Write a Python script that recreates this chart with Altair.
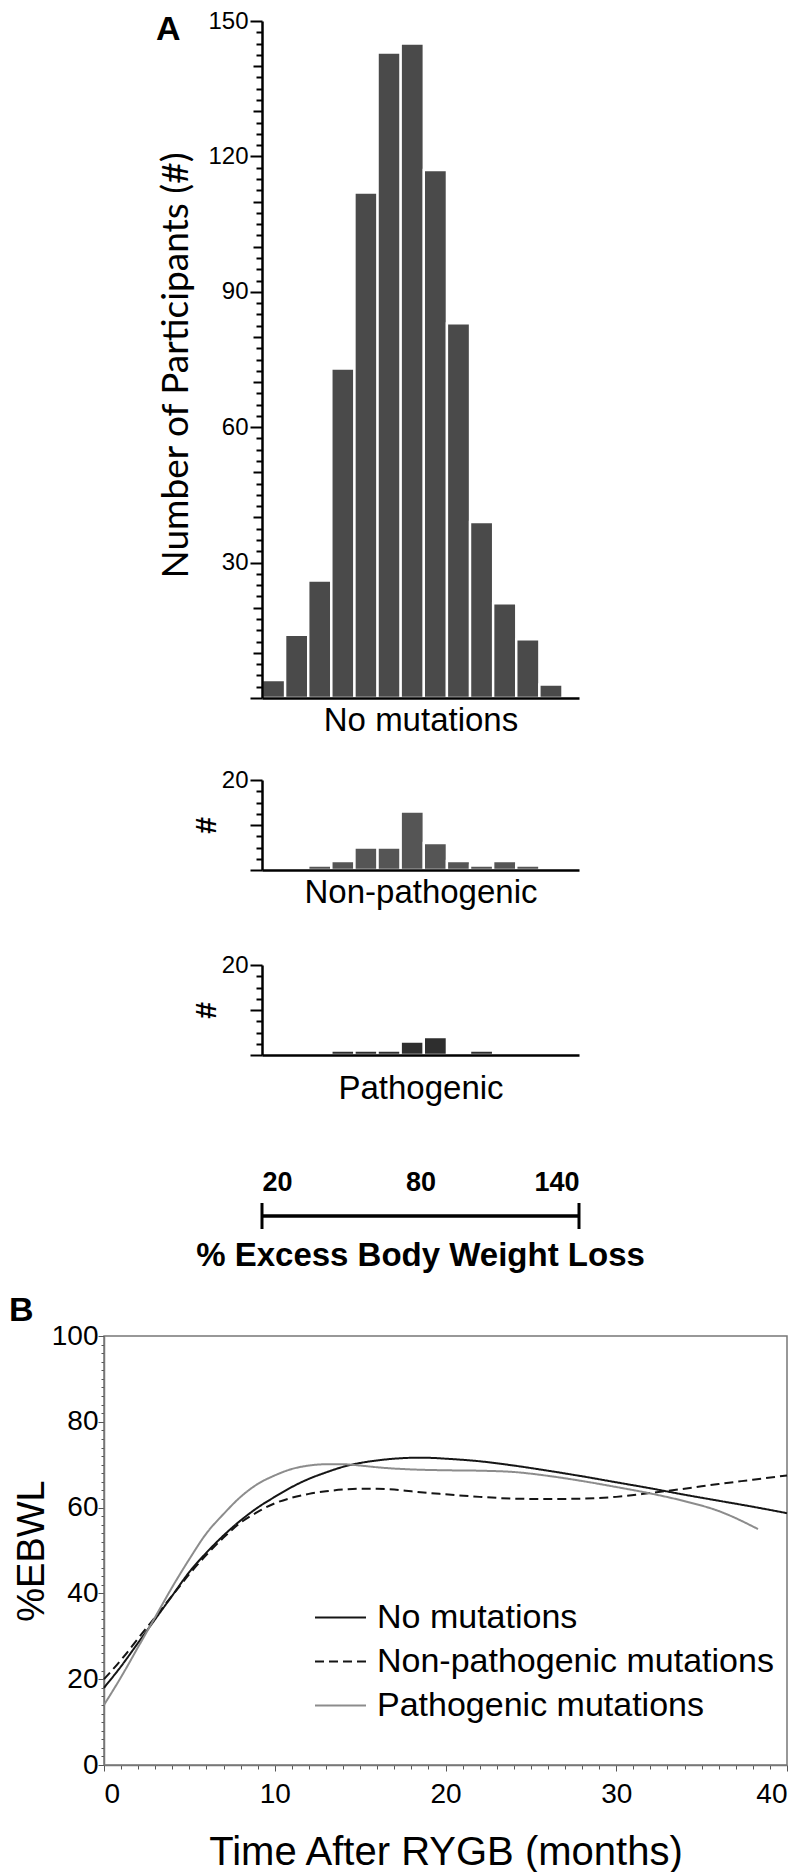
import altair as alt
import pandas as pd

# ---------------- Panel A data (histograms of %EBWL) ----------------
bin_lo = [20.0, 28.75, 37.5, 46.25, 55.0, 63.75, 72.5, 81.25, 90.0, 98.75, 107.5, 116.25, 125.0]
bin_hi = [28.75, 37.5, 46.25, 55.0, 63.75, 72.5, 81.25, 90.0, 98.75, 107.5, 116.25, 125.0, 133.75]
n_none = [4, 14, 26, 73, 112, 143, 145, 117, 83, 39, 21, 13, 3]
n_nonpath = [0, 0, 1, 2, 5, 5, 13, 6, 2, 1, 2, 1, 0]
n_path = [0, 0, 0, 1, 1, 1, 3, 4, 0, 1, 0, 0, 0]

scale_ends = [20, 140]
scale_labels = [20, 80, 140]

# ---------------- Panel B data (%EBWL over time) ----------------
months_a = [0, 1, 2, 3, 4, 5, 6, 7, 8, 9, 10, 11, 12, 13, 14, 15, 16, 17, 18, 19, 20,
            22, 24, 26, 28, 30, 32, 34, 36, 38, 40]
ebwl_none = [18, 23, 28.5, 34, 39.5, 45, 49.5, 53.5, 57, 60, 62.5, 64.8, 66.7, 68.2, 69.5,
             70.4, 71, 71.4, 71.6, 71.6, 71.4, 70.8, 69.8, 68.6, 67.3, 65.9, 64.5, 63,
             61.6, 60.2, 58.7]
ebwl_nonpath = [20, 24.5, 29.5, 34.5, 39.5, 44.5, 49, 53, 56.5, 59, 61, 62.3, 63.2, 63.8,
                64.2, 64.4, 64.4, 64.2, 63.8, 63.4, 63.1, 62.5, 62.1, 62, 62.1, 62.5, 63.4,
                64.4, 65.5, 66.5, 67.5]
months_p = [0, 1, 2, 3, 4, 5, 6, 7, 8, 9, 10, 11, 12, 13, 14, 15, 16, 17, 18, 20, 22, 24,
            26, 28, 30, 32, 34, 36, 38.3]
ebwl_path = [14, 20.5, 27.5, 34.5, 41.5, 48, 54, 58.5, 62.5, 65.5, 67.5, 69, 69.8, 70.1,
             70.1, 69.8, 69.4, 69.1, 68.9, 68.7, 68.6, 68.3, 67.4, 66.2, 64.8, 63.3, 61.5,
             59.2, 55]
groups = ["No mutations", "Non-pathogenic mutations", "Pathogenic mutations"]
group_colors = ["#151515", "#151515", "#8c8c8c"]
group_dashes = [[1, 0], [9, 5], [1, 0]]

panel_letters = ["A", "B"]

FONT = "Liberation Sans"
XDOM = [20, 140]
PLOT_W = 317


def spacer(w, h):
    return alt.Chart(pd.DataFrame({"z": [0]})).mark_point(opacity=0).encode(
        x=alt.value(0), y=alt.value(0)
    ).properties(width=w, height=h)


def letter(txt, dx, dy):
    return alt.Chart(pd.DataFrame({"t": [txt]})).mark_text(
        font=FONT, fontSize=34, fontWeight="bold", color="black", align="left",
        baseline="middle"
    ).encode(text="t:N", x=alt.value(dx), y=alt.value(dy))


def histogram(counts, fill, ymax, height, yvals, label_expr, tsize, ytitle,
              ytitle_font, ytitle_size, ytitle_weight, ytitle_pad, xtitle, xtitle_pad,
              title_y=None):
    df = pd.DataFrame({"lo": bin_lo, "hi": bin_hi, "n": counts})
    df = df[df["n"] > 0]
    yaxis_kw = dict(
        values=yvals, labelExpr=label_expr, labelOverlap=False, labelFont=FONT,
        labelFontSize=24, labelColor="black", labelPadding=2, tickSize=tsize,
        tickColor="black", tickWidth=2, domainColor="black", domainWidth=2.5,
        grid=False, title=ytitle, titleFont=ytitle_font, titleFontSize=ytitle_size,
        titleFontWeight=ytitle_weight, titleColor="black", titlePadding=ytitle_pad,
        zindex=1,
    )
    if title_y is not None:
        yaxis_kw["titleY"] = title_y
    return alt.Chart(df).mark_bar(color=fill, stroke="white", strokeWidth=2.4).encode(
        x=alt.X("lo:Q", scale=alt.Scale(domain=XDOM, nice=False, zero=False),
                axis=alt.Axis(title=xtitle, labels=False, ticks=False, grid=False,
                              domainColor="black", domainWidth=2.5, titleFont=FONT,
                              titleFontSize=33, titleFontWeight="normal",
                              titleColor="black", titlePadding=xtitle_pad, zindex=1)),
        x2="hi:Q",
        y=alt.Y("n:Q", scale=alt.Scale(domain=[0, ymax], nice=False), axis=alt.Axis(**yaxis_kw)),
        y2=alt.datum(0),
    ).properties(width=PLOT_W, height=height)


big_vals = [i * 2.5 for i in range(61)]
small_vals = [i * 2.5 for i in range(9)]
tick_big = {"condition": [{"test": "datum.value % 30 === 0", "value": 12},
                          {"test": "datum.value % 10 === 0", "value": 9}], "value": 6}
tick_small = {"condition": [{"test": "datum.value % 10 === 0", "value": 12}], "value": 6}

h1_bars = histogram(n_none, "#4a4a4a", 150, 677, big_vals,
                    "datum.value % 30 === 0 && datum.value > 0 ? datum.label : ''",
                    tick_big, "Number of Participants (#)", "Lato", 37, "normal", 12,
                    "No mutations", 6, title_y=344)
h1 = alt.layer(h1_bars, letter(panel_letters[0], -106, 9))
h2 = histogram(n_nonpath, "#555555", 20, 90, small_vals,
               "datum.value === 20 ? '20' : ''", tick_small, "#", FONT, 30, "bold", 0,
               "Non-pathogenic", 6)
h3 = histogram(n_path, "#2e2e2e", 20, 90, small_vals,
               "datum.value === 20 ? '20' : ''", tick_small, "#", FONT, 30, "bold", 0,
               "Pathogenic", 17)

# scale bar
xs = alt.Scale(domain=XDOM, nice=False, zero=False)
sb_axis = alt.Axis(orient="top", values=scale_labels, labelFlush=True, labelFont=FONT,
                   labelFontSize=27, labelFontWeight="bold", labelColor="black",
                   labelPadding=7, ticks=False, domain=False, grid=False, title=None)
caps = alt.Chart(pd.DataFrame({"v": scale_ends})).mark_rule(color="black", strokeWidth=3).encode(
    x=alt.X("v:Q", scale=xs, axis=sb_axis))
bar = alt.Chart(pd.DataFrame({"a": [scale_ends[0]], "b": [scale_ends[1]]})).mark_rule(
    color="black", strokeWidth=3.5).encode(
    x=alt.X("a:Q", scale=xs, axis=sb_axis), x2="b:Q", y=alt.value(13))
scalebar = alt.layer(caps, bar).properties(
    width=PLOT_W, height=26,
    title=alt.TitleParams("% Excess Body Weight Loss", orient="bottom", anchor="middle",
                          frame="group", font=FONT, fontSize=33, fontWeight="bold",
                          color="black", offset=9))

colA = alt.vconcat(h1, spacer(1, 82), h2, spacer(1, 95), h3, spacer(1, 148), scalebar,
                   spacing=0, bounds="flush")
rowA = alt.hconcat(spacer(50, 1), colA, spacing=0)

# ---------------- Panel B ----------------
dfB = pd.concat([
    pd.DataFrame({"month": months_a, "ebwl": ebwl_none, "group": groups[0]}),
    pd.DataFrame({"month": months_a, "ebwl": ebwl_nonpath, "group": groups[1]}),
    pd.DataFrame({"month": months_p, "ebwl": ebwl_path, "group": groups[2]}),
])

legB = alt.Legend(title=None, orient="none", legendX=210, legendY=255, direction="vertical",
                  symbolType="stroke", symbolSize=2600, symbolStrokeWidth=2,
                  labelFont=FONT, labelFontSize=34, labelColor="black", labelOffset=10,
                  labelLimit=600, rowPadding=-5, padding=0)

x_axis_B = alt.Axis(values=list(range(0, 41)),
                    labelExpr="datum.value % 10 === 0 ? datum.label : ''",
                    labelOverlap=False, labelFont=FONT, labelFontSize=28, labelColor="black",
                    labelPadding=9,
                    tickSize={"condition": [{"test": "datum.value % 10 === 0", "value": 6}],
                              "value": 4},
                    tickColor="#555555", tickWidth=1, domainColor="#777777", domainWidth=1.5,
                    grid=False, title="Time After RYGB (months)", titleFont=FONT,
                    titleFontSize=40, titleFontWeight="normal", titleColor="black",
                    titlePadding=24)
y_axis_B = alt.Axis(values=list(range(0, 101, 2)),
                    labelExpr="datum.value % 20 === 0 ? datum.label : ''",
                    labelOverlap=False, labelFont=FONT, labelFontSize=28, labelColor="black",
                    labelPadding=0,
                    tickSize={"condition": [{"test": "datum.value % 20 === 0", "value": 6}],
                              "value": 3},
                    tickColor="#555555", tickWidth=1, domainColor="#777777", domainWidth=1.5,
                    grid=False, title="%EBWL", titleFont=FONT, titleFontSize=38,
                    titleFontWeight="normal", titleColor="black", titlePadding=0)

linesB = alt.Chart(dfB).mark_line(strokeWidth=2, interpolate="monotone").encode(
    x=alt.X("month:Q", scale=alt.Scale(domain=[0, 40], nice=False, zero=False), axis=x_axis_B),
    y=alt.Y("ebwl:Q", scale=alt.Scale(domain=[0, 100], nice=False), axis=y_axis_B),
    color=alt.Color("group:N", scale=alt.Scale(domain=groups, range=group_colors), legend=legB),
    strokeDash=alt.StrokeDash("group:N", scale=alt.Scale(domain=groups, range=group_dashes),
                              legend=legB),
)
panelB = alt.layer(linesB, letter(panel_letters[1], -95, -25)).properties(
    width=683, height=429,
    view=alt.ViewBackground(stroke="#777777", strokeWidth=1.5),
)

chart = alt.vconcat(rowA, panelB, spacing=20).resolve_legend(
    color="independent", strokeDash="independent"
).properties(
    padding={"left": 0, "top": 0, "right": 0, "bottom": 0}
).configure_view(stroke="transparent")

chart.save("out.html", embed_options={"renderer": "svg", "actions": False})
